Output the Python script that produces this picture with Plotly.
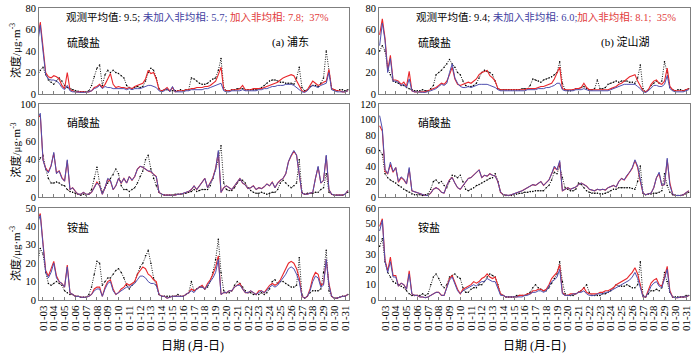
import plotly.graph_objects as go
import pandas as pd

START = "2017-01-02 12:00"   # first sample, 6-hourly data
DAY_TICKS = pd.date_range("2017-01-03", "2017-01-31", freq="D")
TICK_TEXT = [d.strftime("%m-%d") for d in DAY_TICKS]

# ---------------- (a) Pudong ----------------
a_so4_base = [47, 64,
    40, 18, 14, 13,  13, 12, 10, 6,  4, 8, 3, 2,  2, 1.5, 1.5, 1.5,  1.5, 2, 3, 5,
    6, 8, 5, 7,  6, 6, 5, 5,  5, 5, 5, 4,  5, 4, 5, 5,  5, 6, 7, 8,
    8, 7, 6, 3,  2, 3, 5, 2,  7, 2, 2, 2,  2, 3, 3, 4,  4, 4, 4, 4,
    5, 5, 6, 7,  8, 9, 10, 3,  2, 2, 3, 3,  3, 3, 4, 3,  3, 3, 3, 3,
    4, 4, 5, 5,  6, 7, 7, 8,  8, 8, 9, 9,  9, 8, 6, 4,  2, 1.5, 3, 6,
    8, 7, 6, 8,  9, 10, 20, 4,  3, 2, 2, 2,
    2, 3]
a_so4_het = [50, 67,
    44, 20, 16, 15,  17, 16, 14, 8,  5, 20, 4, 3,  2, 2, 2, 2,  2, 2, 3, 6,
    7, 9, 6, 9,  14, 19, 9, 6,  7, 6, 6, 5,  6, 5, 7, 8,  9, 10, 14, 22,
    19, 20, 14, 4,  3, 4, 6, 3,  6, 2, 3, 3,  3, 4, 4, 5,  5, 6, 6, 6,
    7, 7, 8, 10,  12, 18, 25, 4,  3, 3, 4, 4,  4, 5, 8, 4,  4, 4, 5, 5,
    5, 5, 6, 7,  8, 9, 10, 11,  13, 15, 16, 17,  18, 17, 12, 8,  3, 2, 4, 8,
    12, 10, 8, 9,  11, 12, 23, 5,  4, 3, 3, 2,
    2, 3]
a_so4_obs = [18, 22,
    25, 18, 13, 11,  9, 12, 15, 12,  8, 6, 5, 4,  3, 2.5, 2, 2,  2, 3, 8, 16,
    24, 27, 8, 18,  22, 20, 22, 20,  19, 17, 15, 8,  6, 5, 6, 7,  6, 7, 12, 20,
    24, 22, 15, 5,  3, 4, 4, 3,  3, 3, 3, 4,  3, 4, 4, 15,  14, 12, 10, 9,
    9, 10, 12, 14,  15, 22, 33, 6,  3, 3, 4, 4,  5, 5, 5, 4,  4, 4, 4, 4,
    5, 6, 8, 10,  12, 13, 13, 12,  11, 11, 10, 10,  10, 9, 15, 25,  6, 3, 4, 7,
    8, 8, 7, 10,  15, 40, 20, 5,  4, 3, 4, 4,
    3, 4]

a_no3_base = [85, 90,
    40, 30, 26, 33,  48, 25, 28, 20,  17, 40, 8, 10,  6, 3, 3, 5,  3, 3, 5, 10,
    15, 12, 3, 10,  20, 18, 8, 12,  20, 15, 20, 15,  22, 18, 22, 30,  33, 32, 30, 28,
    28, 24, 22, 5,  3, 2, 2, 2,  2, 2, 3, 3,  4, 5, 6, 8,  12, 8, 12, 16,
    20, 10, 15, 20,  30, 50, 5, 10,  12, 10, 8, 12,  16, 20, 15, 13,  9, 10, 12, 8,
    10, 9, 11, 14,  12, 16, 10, 15,  18, 20, 25, 38,  45, 50, 45, 25,  4, 3, 3, 4,
    5, 20, 33, 15,  18, 45, 8, 3,  2, 2, 2, 2,
    3, 7]
a_no3_het = [85, 88,
    40, 31, 27, 34,  47, 26, 28, 21,  17, 39, 8, 10,  6, 3, 3, 5,  3, 3, 5, 11,
    16, 12, 3, 10,  19, 17, 8, 12,  20, 15, 20, 15,  22, 18, 22, 30,  33, 32, 30, 28,
    27, 24, 22, 5,  3, 2, 2, 2,  2, 2, 3, 3,  4, 5, 6, 8,  12, 8, 12, 16,
    20, 10, 15, 21,  31, 48, 5, 10,  12, 10, 8, 12,  16, 20, 15, 13,  9, 10, 12, 8,
    10, 9, 11, 14,  12, 16, 10, 15,  18, 20, 25, 38,  44, 49, 45, 25,  4, 3, 3, 4,
    5, 20, 32, 15,  18, 44, 8, 3,  2, 2, 2, 2,
    3, 7]
a_no3_obs = [35, 42,
    45, 30, 20, 15,  15, 16, 15, 13,  12, 8, 6, 5,  4, 3, 2, 3,  2, 3, 8, 20,
    32, 15, 5, 10,  15, 20, 24, 30,  25, 12, 8, 8,  6, 8, 10, 15,  22, 28, 40, 45,
    30, 20, 12, 5,  3, 2, 2, 2,  2, 3, 3, 3,  3, 4, 5, 6,  8, 6, 7, 8,
    8, 8, 12, 20,  30, 40, 55, 15,  8, 7, 7, 10,  15, 18, 18, 15,  10, 7, 5, 4,
    4, 5, 4, 3,  4, 5, 5, 8,  15, 18, 15, 12,  10, 12, 15, 40,  5, 3, 4, 4,
    4, 5, 5, 8,  10, 25, 5, 3,  2, 2, 2, 2,
    3, 5]

a_nh4_base = [42, 46,
    30, 15, 12, 15,  20, 12, 10, 9,  7, 18, 4, 3,  2, 2, 1.5, 1.5,  1.5, 2, 3, 5,
    6, 6, 2, 6,  9, 10, 5, 3,  4, 5, 6, 7,  7, 8, 9, 11,  13, 13, 12, 10,
    9, 9, 8, 3,  2, 2, 1, 1.5,  2, 2, 2, 2,  2, 3, 4, 5,  4, 6, 7, 7,
    6, 8, 10, 12,  15, 22, 3, 4,  4, 5, 5, 7,  8, 8, 6, 4,  4, 5, 4, 3,
    4, 5, 4, 5,  7, 8, 7, 8,  10, 12, 14, 17,  18, 17, 14, 10,  2, 1, 2, 5,
    10, 13, 12, 7,  8, 22, 8, 2,  1, 1, 1.5, 2,
    2, 3]
a_nh4_het = [44, 47,
    31, 16, 13, 17,  21, 13, 10, 9,  7, 19, 4, 3,  2, 2, 1.5, 1.5,  1.5, 2, 3, 6,
    7, 7, 2, 7,  10, 11, 6, 3,  4, 6, 7, 9,  8, 9, 10, 14,  16, 18, 17, 14,
    13, 11, 10, 3,  2, 2, 1, 1.5,  2, 2, 2, 2,  2, 3, 4, 6,  5, 6, 7, 8,
    6, 9, 11, 14,  18, 24, 3, 4,  4, 5, 5, 7,  8, 9, 6, 4,  4, 5, 4, 3,
    5, 5, 4, 6,  8, 9, 8, 9,  11, 14, 17, 20,  21, 20, 17, 12,  2, 1, 2, 6,
    12, 15, 14, 8,  9, 22, 9, 2,  1, 1, 1.5, 2,
    2, 3]
a_nh4_obs = [20, 28,
    25, 15, 9, 8,  9, 10, 9, 8,  5, 4, 3, 3,  2, 2, 1.5, 1.5,  1.5, 3, 7, 14,
    21, 20, 8, 10,  12, 12, 14, 16,  17, 15, 12, 8,  6, 8, 10, 14,  18, 20, 24, 27,
    20, 12, 8, 3,  2, 2, 2, 2,  2, 2, 3, 2,  2, 3, 4, 10,  5, 6, 7, 7,
    6, 7, 10, 15,  22, 33, 15, 5,  4, 4, 5, 8,  10, 9, 7, 5,  4, 4, 3, 3,
    3, 4, 3, 4,  6, 10, 11, 9,  10, 10, 9, 8,  7, 7, 8, 23,  3, 1, 2, 4,
    5, 5, 5, 6,  15, 27, 5, 2,  1, 1, 1.5, 2,
    2, 3]

# ---------------- (b) Dianshan Lake ----------------
b_so4_base = [45, 66,
    50, 20, 33, 12,  12, 11, 8, 9,  6, 14, 3, 2,  2, 1.5, 1.5, 1.5,  2, 3, 4, 5,
    7, 9, 8, 10,  20, 28, 15, 10,  7, 6, 6, 7,  6, 7, 8, 9,  9, 9, 9, 8,
    7, 6, 4, 3,  3, 3, 3, 3,  3, 3, 3, 3,  3, 4, 4, 4,  4, 5, 5, 5,
    6, 6, 7, 8,  10, 10, 4, 3,  3, 3, 3, 4,  4, 4, 5, 4,  3, 3, 3, 3,
    3, 3, 3, 3,  4, 5, 6, 7,  8, 9, 9, 9,  9, 9, 7, 5,  2, 1.5, 3, 6,
    8, 8, 7, 7,  9, 17, 5, 3,  2, 2, 2, 2,
    3, 4]
b_so4_het = [55, 70,
    52, 22, 36, 13,  13, 12, 9, 11,  7, 21, 3, 2,  2, 2, 2, 2,  3, 4, 5, 6,
    8, 10, 9, 12,  18, 25, 14, 9,  8, 9, 10, 11,  10, 12, 14, 18,  20, 21, 22, 17,
    15, 12, 5, 4,  4, 4, 4, 4,  4, 4, 4, 4,  4, 5, 5, 5,  5, 6, 7, 7,
    8, 9, 10, 14,  20, 25, 5, 4,  4, 4, 4, 5,  5, 6, 10, 6,  4, 4, 4, 4,
    4, 4, 4, 4,  5, 6, 7, 9,  10, 12, 14, 16,  17, 18, 12, 8,  3, 2, 4, 9,
    12, 13, 10, 9,  12, 24, 7, 4,  3, 3, 3, 3,
    4, 5]
b_so4_obs = [40, 45,
    40, 25, 18, 12,  11, 10, 8, 8,  6, 5, 4, 3,  3, 3, 4, 3,  3, 5, 8, 18,
    20, 22, 25, 28,  32, 28, 25, 20,  18, 12, 8, 7,  7, 8, 10, 15,  20, 22, 21, 20,
    18, 12, 5, 4,  4, 4, 4, 4,  4, 4, 4, 5,  5, 5, 8, 14,  13, 12, 11, 13,
    14, 15, 16, 18,  20, 30, 10, 4,  3, 3, 4, 5,  5, 6, 7, 5,  4, 4, 5, 13,
    5, 5, 6, 9,  10, 11, 12, 11,  12, 12, 12, 11,  11, 10, 15, 27,  5, 2, 4, 8,
    10, 12, 10, 12,  30, 20, 6, 4,  3, 4, 4, 3,
    4, 5]

b_no3_base = [105, 88,
    36, 30, 45, 33,  38, 20, 26, 23,  17, 38, 8, 7,  6, 4, 3, 2,  2, 5, 10, 12,
    10, 6, 5, 15,  22, 25, 18, 12,  10, 15, 20, 24,  25, 28, 32, 35,  25, 28, 27, 30,
    28, 27, 20, 6,  3, 2, 2, 3,  4, 5, 6, 8,  10, 12, 14, 16,  15, 18, 20, 15,
    18, 22, 30, 40,  35, 47, 8, 10,  12, 10, 11, 13,  16, 18, 16, 14,  10, 9, 8, 10,
    9, 10, 9, 12,  14, 15, 13, 20,  24, 22, 28, 32,  38, 48, 40, 20,  5, 3, 4, 5,
    12, 25, 32, 15,  16, 50, 15, 4,  2, 2, 2, 3,
    5, 8]
b_no3_het = [92, 85,
    33, 30, 42, 32,  38, 19, 25, 22,  17, 36, 8, 7,  6, 4, 3, 2,  2, 5, 10, 12,
    10, 6, 5, 15,  22, 25, 18, 12,  10, 15, 20, 24,  25, 28, 32, 35,  25, 28, 27, 30,
    28, 27, 20, 6,  3, 2, 2, 3,  4, 5, 6, 8,  10, 12, 14, 16,  15, 18, 20, 15,
    18, 22, 30, 38,  35, 45, 8, 10,  12, 10, 11, 13,  16, 18, 16, 14,  10, 9, 8, 10,
    9, 10, 9, 12,  14, 15, 13, 20,  24, 22, 27, 32,  37, 47, 38, 20,  5, 3, 4, 5,
    12, 25, 30, 15,  16, 48, 18, 4,  2, 2, 2, 3,
    5, 8]
b_no3_obs = [60, 55,
    30, 25, 22, 20,  18, 15, 13, 10,  8, 6, 4, 3,  3, 3, 2, 3,  4, 10, 20, 22,
    18, 20, 15, 12,  20, 28, 27, 25,  28, 20, 10, 8,  10, 12, 15, 16,  18, 20, 22, 24,
    25, 30, 20, 6,  3, 2, 2, 2,  3, 4, 5, 5,  6, 6, 7, 7,  8, 8, 8, 8,
    12, 15, 22, 32,  30, 40, 25, 12,  10, 8, 8, 10,  18, 16, 12, 8,  6, 5, 5, 5,
    4, 4, 5, 6,  8, 10, 10, 12,  12, 12, 12, 12,  11, 10, 20, 40,  5, 3, 4, 4,
    5, 5, 6, 8,  30, 15, 6, 3,  2, 2, 2, 3,
    4, 6]

b_nh4_base = [45, 52,
    25, 18, 25, 15,  15, 9, 11, 10,  7, 17, 4, 3,  3, 2, 2, 1.5,  2, 3, 4, 5,
    5, 3, 3, 8,  13, 15, 10, 6,  4, 6, 7, 8,  9, 10, 9, 11,  12, 12, 14, 13,
    12, 12, 8, 3,  3, 2, 2, 2,  2, 2, 2, 2,  3, 3, 4, 5,  5, 6, 6, 5,
    6, 9, 12, 13,  15, 20, 4, 3,  3, 3, 4, 4,  5, 5, 6, 4,  3, 3, 3, 4,
    4, 4, 5, 5,  6, 7, 8, 9,  10, 11, 12, 13,  15, 18, 14, 8,  2, 2, 5, 9,
    11, 12, 9, 8,  14, 20, 5, 2,  1.5, 1.5, 2, 2,
    2, 3]
b_nh4_het = [48, 53,
    26, 19, 28, 16,  16, 9, 11, 10,  7, 19, 4, 3,  3, 2, 2, 1.5,  2, 3, 4, 5,
    5, 3, 3, 9,  14, 16, 11, 7,  4, 7, 8, 9,  10, 12, 11, 12,  14, 15, 17, 15,
    14, 15, 10, 4,  3, 2, 2, 2,  2, 2, 3, 3,  3, 4, 4, 6,  6, 7, 7, 6,
    7, 10, 14, 16,  18, 23, 5, 3,  3, 4, 4, 4,  5, 6, 8, 5,  4, 4, 4, 4,
    5, 5, 6, 6,  7, 8, 10, 11,  12, 13, 14, 16,  18, 21, 17, 10,  2, 2, 6, 11,
    13, 14, 10, 9,  15, 22, 6, 2,  1.5, 1.5, 2, 2,
    2, 3]
b_nh4_obs = [35, 40,
    25, 18, 15, 12,  11, 10, 9, 8,  6, 4, 3, 3,  3, 3, 4, 3,  4, 10, 15, 17,
    14, 10, 8, 10,  15, 16, 17, 15,  14, 8, 5, 5,  7, 8, 8, 10,  10, 12, 15, 17,
    16, 15, 10, 4,  3, 2, 2, 2,  2, 3, 3, 3,  3, 4, 5, 8,  10, 8, 7, 6,
    6, 8, 11, 14,  17, 25, 12, 4,  3, 3, 3, 4,  5, 6, 8, 10,  5, 3, 3, 3,
    3, 4, 4, 5,  6, 8, 10, 9,  9, 9, 10, 9,  8, 8, 10, 25,  3, 2, 4, 6,
    6, 7, 6, 8,  18, 12, 5, 2,  2, 2, 2, 2,
    3, 3]

# ---------------- text ----------------
Y_TITLE = "浓度/μg·m<sup>-3</sup>"
X_TITLE = "日期 (月-日)"
STATS_A = ("观测平均值: 9.5; <span style='color:#3f3f9f'>未加入非均相: 5.7;</span>"
           " <span style='color:#e23b3b'>加入非均相: 7.8;  37%</span>")
STATS_B = ("观测平均值: 9.4; <span style='color:#3f3f9f'>未加入非均相: 6.0;</span>"
           "<span style='color:#e23b3b'>加入非均相: 8.1;  35%</span>")
SPECIES = ["硫酸盐", "硝酸盐", "铵盐"]
SITES = ["(a) 浦东", "(b) 淀山湖"]

W, H = 700, 354
SERIF = "Liberation Serif, 'Times New Roman', 'Noto Sans CJK SC', serif"
CJK = "Liberation Serif, 'Noto Sans CJK SC', serif"

LEFT_X, RIGHT_X = (39, 349), (379, 690)
ROWS_Y = [(8, 94), (104, 197), (208, 300)]
panels = [
    (a_so4_base, a_so4_het, a_so4_obs, 80, 20, LEFT_X, ROWS_Y[0]),
    (b_so4_base, b_so4_het, b_so4_obs, 80, 20, RIGHT_X, ROWS_Y[0]),
    (a_no3_base, a_no3_het, a_no3_obs, 100, 20, LEFT_X, ROWS_Y[1]),
    (b_no3_base, b_no3_het, b_no3_obs, 120, 20, RIGHT_X, ROWS_Y[1]),
    (a_nh4_base, a_nh4_het, a_nh4_obs, 50, 10, LEFT_X, ROWS_Y[2]),
    (b_nh4_base, b_nh4_het, b_nh4_obs, 60, 10, RIGHT_X, ROWS_Y[2]),
]
XR_LEFT = ["2017-01-02 15:07", "2017-01-31 08:38"]
XR_RIGHT = ["2017-01-02 10:34", "2017-01-31 08:53"]

def times(n):
    return pd.date_range(START, periods=n, freq="6h")

fig = go.Figure()
layout = dict(width=W, height=H, margin=dict(l=0, r=0, t=0, b=0),
              paper_bgcolor="white", plot_bgcolor="white", showlegend=False,
              font=dict(family=SERIF, size=11, color="black"))

for i, (base, het, obs, ymax, dt, xs, ys) in enumerate(panels):
    n = i + 1
    xa = "x" if n == 1 else f"x{n}"
    ya = "y" if n == 1 else f"y{n}"
    fig.add_trace(go.Scatter(x=times(len(obs)), y=obs, mode="lines+markers",
                             line=dict(color="black", width=0.9, dash="1px,1.4px"),
                             marker=dict(color="black", size=1.5),
                             xaxis=xa, yaxis=ya, hoverinfo="skip"))
    fig.add_trace(go.Scatter(x=times(len(het)), y=het, mode="lines",
                             line=dict(color="#e8262b", width=1.1),
                             xaxis=xa, yaxis=ya))
    fig.add_trace(go.Scatter(x=times(len(base)), y=base, mode="lines",
                             line=dict(color="#4f4faf", width=1.0),
                             xaxis=xa, yaxis=ya))
    bottom = i >= 4
    layout["xaxis" if n == 1 else f"xaxis{n}"] = dict(
        domain=[xs[0] / W, xs[1] / W], anchor=ya, type="date",
        range=XR_LEFT if xs == LEFT_X else XR_RIGHT,
        tickmode="array", tickvals=list(DAY_TICKS), ticktext=TICK_TEXT,
        showticklabels=bottom, tickangle=-90,
        ticks="inside", ticklen=3, tickcolor="#7f7f7f",
        showline=True, linecolor="#7f7f7f", linewidth=1, mirror=True,
        showgrid=False, zeroline=False, automargin=False,
        tickfont=dict(family=SERIF, size=11, color="black"))
    layout["yaxis" if n == 1 else f"yaxis{n}"] = dict(
        domain=[1 - ys[1] / H, 1 - ys[0] / H], anchor=xa,
        range=[0, ymax], dtick=dt, tick0=0,
        showline=True, linecolor="#7f7f7f", linewidth=1, mirror=True,
        showgrid=False, zeroline=False, ticks="", automargin=False,
        tickfont=dict(family=SERIF, size=10.5, color="black"))

fig.update_layout(**layout)

def ann(text, px, py, size=11, xanchor="left", angle=0):
    fig.add_annotation(text=text, x=px / W, y=1 - py / H, xref="paper", yref="paper",
                       showarrow=False, xanchor=xanchor, yanchor="middle",
                       textangle=angle, font=dict(family=CJK, size=size, color="black"))

ann(STATS_A, 64, 17, size=10.5)
ann(STATS_B, 414, 17, size=10.5)
ann(SITES[0], 270, 42)
ann(SITES[1], 599, 42)
for r, sp in enumerate(SPECIES):
    ypos = [42, 123, 227][r]
    ann(sp, 65, ypos)
    ann(sp, 416, ypos)
    yc = (ROWS_Y[r][0] + ROWS_Y[r][1]) / 2
    ann(Y_TITLE, 15, yc, size=11, xanchor="center", angle=-90)
ann(X_TITLE, 193, 346, size=12, xanchor="center")
ann(X_TITLE, 534, 346, size=12, xanchor="center")

fig.write_html("out.html")
